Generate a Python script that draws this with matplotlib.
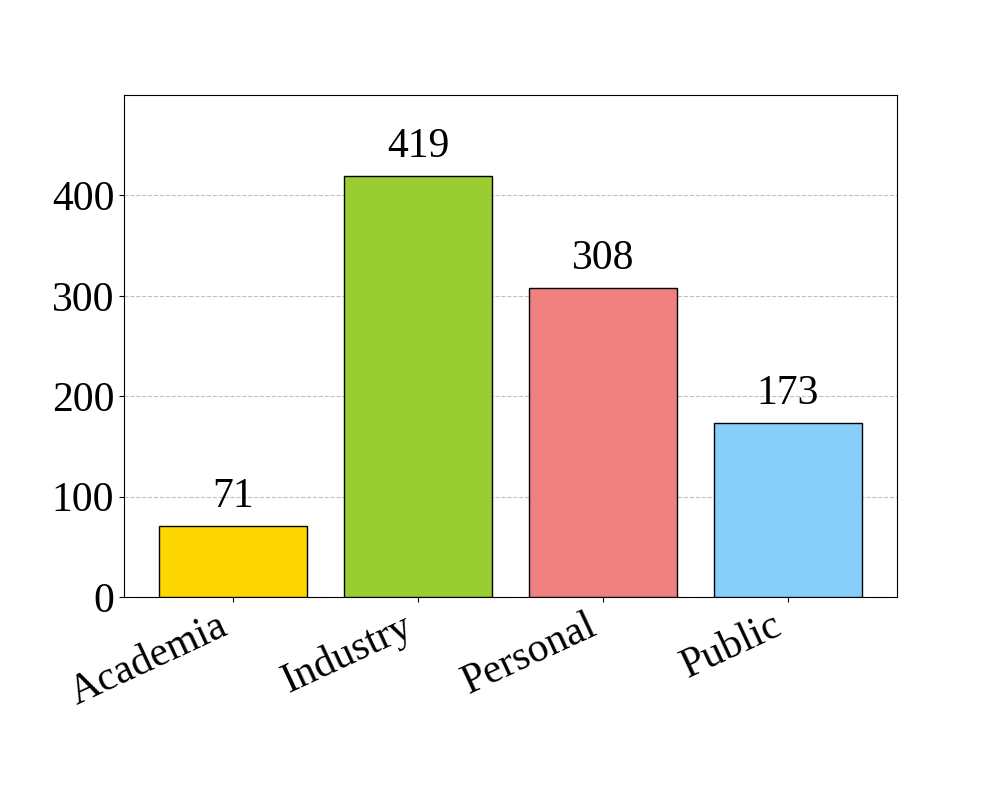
import matplotlib
matplotlib.use("Agg")
import matplotlib.pyplot as plt

categories = ["Academia", "Industry", "Personal", "Public"]
counts = [71, 419, 308, 173]
colors = ["gold", "yellowgreen", "lightcoral", "lightskyblue"]

plt.rcParams["font.family"] = ["Liberation Serif", "DejaVu Serif"]

fig = plt.figure(figsize=(9.97, 7.97), dpi=100)
ax = fig.add_axes([0.1244, 0.2509, 0.7753, 0.6299])

bars = ax.bar(categories, counts, width=0.8, color=colors, edgecolor="black", zorder=3)
for bar, c in zip(bars, counts):
    ax.text(bar.get_x() + bar.get_width() / 2, c + 10, str(c),
            ha="center", va="bottom", fontsize=30)

ax.set_ylim(0, 500)
ax.set_yticks([0, 100, 200, 300, 400])
ax.yaxis.grid(True, linestyle="--", color="gray", alpha=0.5, zorder=0)
ax.tick_params(axis="both", labelsize=30)
plt.setp(ax.get_xticklabels(), rotation=25, ha="right")

fig.savefig("out.png", dpi=100)
